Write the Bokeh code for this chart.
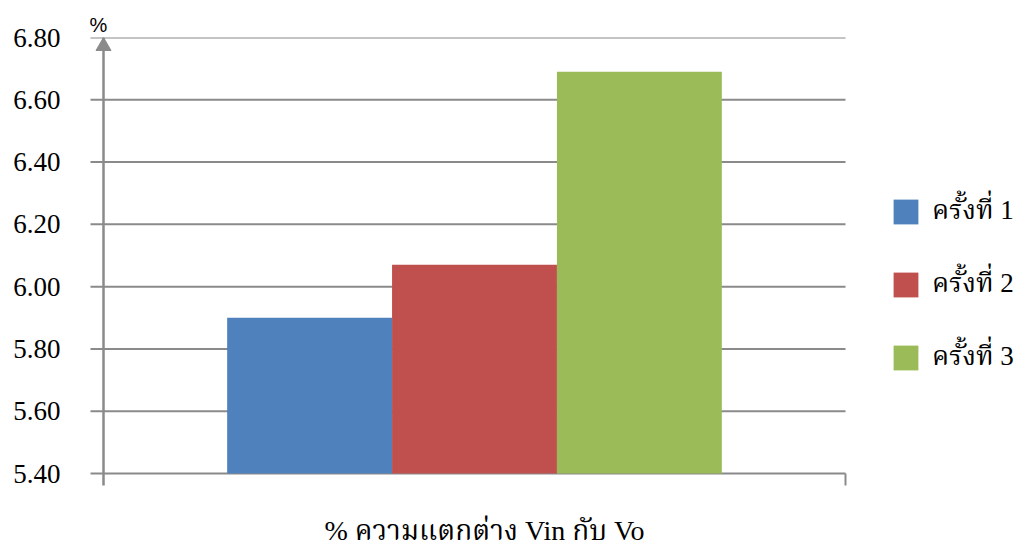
from bokeh.plotting import figure
from bokeh.models import (Range1d, FixedTicker, NumeralTickFormatter, Title,
                          Legend, LegendItem, Label)
from bokeh.embed import file_html
from bokeh.resources import INLINE
import numpy as np

# Data
series_names = ["ครั้งที่ 1", "ครั้งที่ 2", "ครั้งที่ 3"]
series_values = [5.90, 6.07, 6.69]
series_colors = ["#4F81BD", "#C0504D", "#9BBB59"]
category_label = "% ความแตกต่าง Vin กับ Vo"
y_ticks = [5.40, 5.60, 5.80, 6.00, 6.20, 6.40, 6.60, 6.80]

SERIF = "'Liberation Serif', 'Noto Serif Thai', 'Times New Roman', serif"
GRAY = "#8a8a8a"

# Layout (pixels)
W, H = 1019, 545
FRAME_LEFT, TOP = 80, 37
AXIS_X = 103               # where the value axis is drawn
TICK_PX = 13               # outward tick length on the value axis
XTICK_PX = 12              # outward tick length on the category axis
VALUE_H = 436              # height of the value area
BELOW_PX = H - TOP - VALUE_H
PLOT_W = 742               # width of the category area
PX_PER_UNIT = PLOT_W / 4.5  # one bar is one unit wide

y_min, y_max = y_ticks[0], y_ticks[-1]
y_per_px = (y_max - y_min) / VALUE_H
n = len(series_values)
cat_lo, cat_hi = -1.25, (n - 1) + 1.25
x_start = cat_lo - (AXIS_X - FRAME_LEFT) / PX_PER_UNIT
# the frame runs to the right and bottom edges so the legend and the
# caption can sit inside it
x_end = cat_hi + (W - AXIS_X - PLOT_W) / PX_PER_UNIT
y_start = y_min - BELOW_PX * y_per_px
tick_lo = cat_lo - TICK_PX / PX_PER_UNIT
xtick_bottom = y_min - XTICK_PX * y_per_px

p = figure(width=W, height=H, output_backend="svg", toolbar_location=None,
           x_range=Range1d(x_start, x_end), y_range=Range1d(y_start, y_max),
           x_axis_location=None,
           min_border_left=FRAME_LEFT, min_border_right=0, min_border_top=TOP,
           min_border_bottom=0)
p.outline_line_color = None
p.background_fill_color = "white"
p.border_fill_color = "white"
p.xgrid.grid_line_color = None
p.ygrid.grid_line_color = None

# horizontal gridlines (with their outward tick) across the category area
p.segment(x0=[tick_lo] * len(y_ticks), y0=y_ticks,
          x1=[cat_hi] * len(y_ticks), y1=y_ticks,
          line_color=GRAY, line_width=2)

renderers = []
for i in range(n):
    r = p.vbar(x=[i], top=[series_values[i]], bottom=y_min, width=1.0,
               fill_color=series_colors[i], line_color=None)
    renderers.append(r)

# y axis: labels only, ticks are part of the gridlines
ya = p.yaxis[0]
ya.ticker = FixedTicker(ticks=y_ticks)
ya.formatter = NumeralTickFormatter(format="0.00")
ya.axis_line_color = None
ya.major_tick_line_color = None
ya.major_tick_out = 0
ya.major_tick_in = 0
ya.minor_tick_line_color = None
ya.major_label_standoff = 20
ya.major_label_text_font = SERIF
ya.major_label_text_font_size = "27px"
ya.major_label_text_color = "black"

# category axis: outer tick marks below the baseline
p.segment(x0=[cat_hi], y0=[y_min], x1=[cat_hi], y1=[xtick_bottom],
          line_color=GRAY, line_width=2)

# vertical axis line with an arrow head at the top
p.segment(x0=[cat_lo], y0=[xtick_bottom], x1=[cat_lo], y1=[y_max],
          line_color=GRAY, line_width=2.5)
head_px = 15
head_drop = (2.0 / 3.0) * (head_px / 2) * np.sqrt(3)
p.scatter(x=[cat_lo], y=[y_max - head_drop * y_per_px],
          marker="triangle", size=head_px, fill_color=GRAY, line_color=GRAY)

# unit marker above the axis
p.add_layout(Title(text="%", align="left", offset=9, standoff=4,
                   text_font="'Liberation Sans', Arial, sans-serif",
                   text_font_size="20px", text_font_style="normal",
                   text_color="black"), "above")

# category caption under the axis
p.add_layout(Label(x=(cat_lo + cat_hi) / 2, y=y_min, x_offset=10, y_offset=-57,
                   text=category_label, text_align="center",
                   text_baseline="middle", text_font=SERIF,
                   text_font_size="28px", text_color="black"))

# legend swatches are drawn at 80% of the glyph box
legend = Legend(items=[LegendItem(label=series_names[i], renderers=[renderers[i]])
                       for i in range(n)],
                location=(810, 166), orientation="vertical",
                glyph_width=31, glyph_height=31, label_standoff=11,
                spacing=30, padding=0, margin=0,
                border_line_color=None, background_fill_alpha=0,
                label_text_font=SERIF, label_text_font_size="27px",
                label_text_color="black")
p.add_layout(legend)

open("out.html", "w").write(file_html(p, INLINE))
